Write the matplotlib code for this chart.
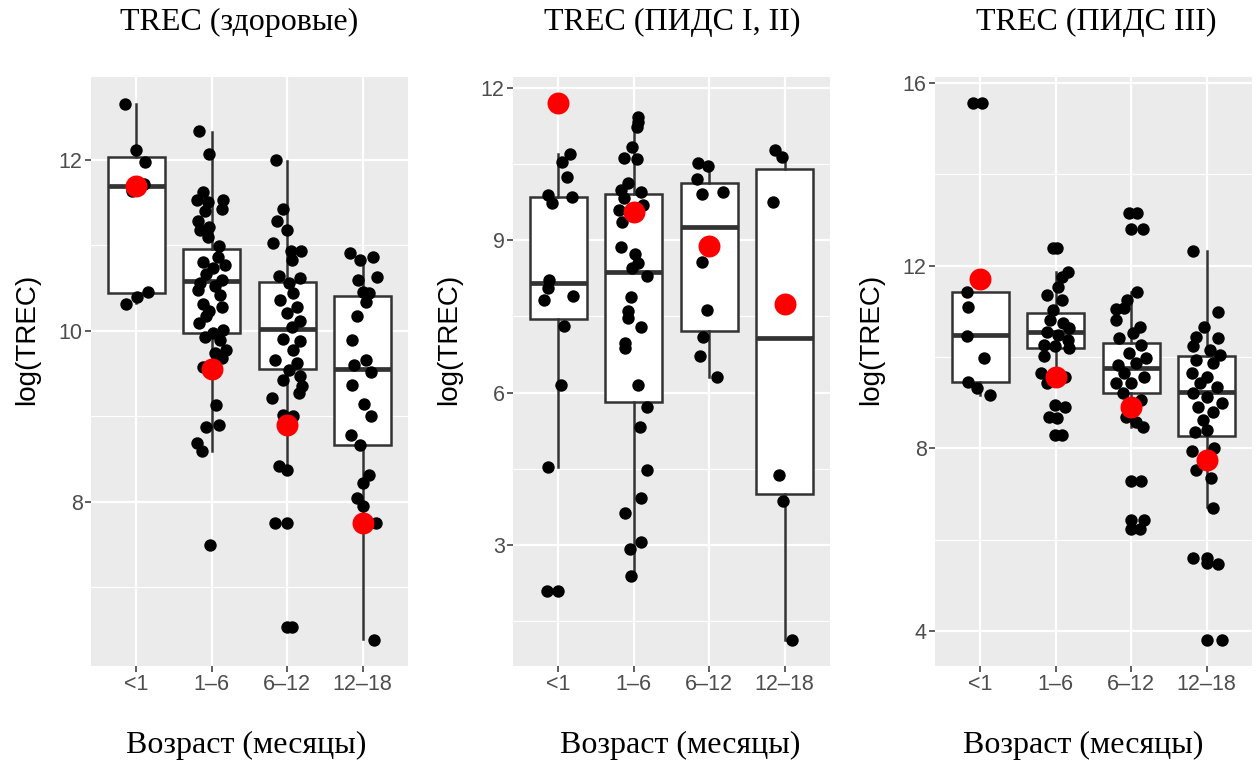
import numpy as np
import matplotlib.pyplot as plt

plt.rcParams['font.family'] = ['Liberation Sans', 'DejaVu Sans']

groups = ['<1', '1–6', '6–12', '12–18']
titles = ['TREC (здоровые)', 'TREC (ПИДС I, II)', 'TREC (ПИДС III)']
xlabel = 'Возраст (месяцы)'
ylabel = 'log(TREC)'

# ---- panel 1: healthy ----
healthy_y = [
    [12.66, 12.12, 11.98, 11.64, 11.72, 10.32, 10.40, 10.45],
    [12.34, 12.07, 11.63, 11.53, 11.51, 11.53, 11.43, 11.40, 11.28, 11.22, 11.18, 11.10,
     10.99, 10.87, 10.81, 10.77, 10.73, 10.67, 10.60, 10.56, 10.52, 10.48, 10.42, 10.32,
     10.28, 10.23, 10.17, 10.09, 10.01, 9.97, 9.93, 9.89, 9.78, 9.74, 9.68, 9.58,
     9.13, 8.88, 8.90, 8.69, 8.59, 7.49],
    [12.00, 11.43, 11.28, 11.18, 11.03, 10.93, 10.93, 10.83, 10.64, 10.62, 10.56, 10.44,
     10.36, 10.28, 10.21, 10.11, 10.05, 9.91, 9.88, 9.78, 9.66, 9.62, 9.54, 9.43,
     9.47, 9.35, 9.27, 9.22, 9.02, 9.01, 8.42, 8.37, 7.75, 7.75, 6.54, 6.54],
    [10.91, 10.83, 10.87, 10.63, 10.60, 10.46, 10.44, 10.34, 10.17, 9.89, 9.66, 9.60,
     9.52, 9.37, 9.15, 9.00, 8.78, 8.67, 8.32, 8.22, 8.04, 7.95, 7.75, 6.38],
]
healthy_dx = [
    [-0.15, 0.00, 0.12, -0.06, 0.10, -0.13, 0.01, 0.15],
    [-0.17, -0.04, -0.12, -0.20, -0.05, 0.15, 0.13, -0.09, -0.18, -0.03, -0.16, -0.05,
     0.10, 0.08, -0.12, 0.17, 0.02, -0.07, 0.13, -0.16, 0.04, -0.18, 0.11, -0.12,
     0.13, -0.03, -0.07, -0.17, 0.15, 0.02, -0.09, 0.11, 0.19, 0.04, 0.13, -0.12,
     0.06, -0.07, 0.10, -0.20, -0.13, -0.02],
    [-0.15, -0.06, -0.13, 0.00, -0.19, 0.05, 0.18, 0.06, -0.11, 0.17, 0.02, 0.08,
     -0.09, 0.13, 0.00, 0.17, 0.06, -0.05, 0.17, 0.08, -0.16, 0.13, 0.02, -0.05,
     0.17, 0.19, 0.15, -0.20, -0.05, 0.08, -0.11, 0.00, -0.16, 0.00, 0.00, 0.06],
    [-0.17, -0.04, 0.14, 0.19, -0.06, 0.00, 0.08, 0.04, -0.07, -0.14, 0.04, -0.12,
     0.11, -0.14, 0.02, 0.11, -0.16, -0.03, 0.08, 0.00, -0.07, 0.00, 0.17, 0.15],
]
healthy_q1 = [10.44, 9.98, 9.55, 8.67]
healthy_med = [11.69, 10.58, 10.02, 9.55]
healthy_q3 = [12.03, 10.96, 10.57, 10.41]
healthy_lo = [10.33, 8.59, 8.37, 6.39]
healthy_hi = [12.65, 12.33, 11.99, 10.87]
healthy_mean = [11.70, 9.55, 8.90, 7.75]

# ---- panel 2: PIDS I, II ----
pids12_y = [
    [10.70, 10.55, 10.25, 9.89, 9.73, 9.85, 8.22, 8.06, 7.83, 7.90, 7.31, 6.15, 4.53, 2.09, 2.09],
    [11.43, 11.34, 11.24, 10.85, 10.62, 10.60, 10.14, 9.99, 9.96, 9.83, 9.60, 9.70,
     9.37, 8.87, 8.74, 8.55, 8.45, 8.30, 7.88, 7.60, 7.46, 7.29, 6.97, 6.87,
     6.15, 5.71, 5.32, 4.48, 3.92, 3.62, 3.05, 2.92, 2.38],
    [10.53, 10.46, 10.20, 9.91, 9.96, 8.58, 7.63, 7.09, 6.72, 6.30],
    [10.79, 10.64, 9.76, 4.37, 3.87, 1.13],
]
pids12_dx = [
    [0.16, 0.05, 0.11, -0.14, -0.08, 0.18, -0.12, -0.13, -0.19, 0.20, 0.07, 0.04, -0.13, -0.15, 0.00],
    [0.05, 0.05, 0.04, -0.02, -0.13, 0.04, -0.08, -0.17, 0.09, -0.13, -0.20, 0.12,
     -0.15, -0.17, 0.01, 0.05, -0.02, 0.18, -0.04, -0.08, -0.08, 0.10, -0.12, -0.11,
     0.05, 0.17, 0.08, 0.18, 0.09, -0.11, 0.10, -0.05, -0.04],
    [-0.15, -0.02, -0.16, -0.10, 0.18, -0.10, -0.03, -0.08, -0.12, 0.10],
    [-0.13, -0.04, -0.16, -0.08, -0.02, 0.09],
]
pids12_q1 = [7.45, 5.82, 7.22, 4.00]
pids12_med = [8.15, 8.38, 9.27, 7.07]
pids12_q3 = [9.86, 9.91, 10.14, 10.40]
pids12_lo = [4.54, 2.38, 6.30, 1.13]
pids12_hi = [10.70, 11.45, 10.48, 10.62]
pids12_mean = [11.70, 9.55, 8.89, 7.74]

# ---- panel 3: PIDS III ----
pids3_y = [
    [15.56, 15.56, 11.43, 11.10, 10.46, 9.97, 9.44, 9.31, 9.17],
    [12.38, 12.38, 11.87, 11.76, 11.54, 11.36, 11.25, 11.03, 10.81, 10.74, 10.63, 10.55,
     10.48, 10.37, 10.26, 10.23, 10.19, 10.01, 9.64, 9.42, 9.57, 8.95, 8.91, 8.69,
     8.66, 8.29, 8.29],
    [13.16, 13.16, 12.80, 12.80, 11.43, 11.25, 11.04, 11.07, 10.81, 10.66, 10.52, 10.41,
     10.26, 10.08, 9.97, 9.83, 9.86, 9.64, 9.57, 9.42, 9.42, 9.21, 9.06, 8.69,
     8.58, 8.47, 7.29, 7.29, 6.43, 6.43, 6.23, 6.23],
    [12.31, 10.99, 10.66, 10.44, 10.41, 10.23, 10.15, 10.04, 9.93, 9.86, 9.64, 9.57,
     9.42, 9.35, 9.21, 9.13, 8.99, 8.91, 8.80, 8.62, 8.36, 8.40, 7.93, 8.00,
     7.53, 7.34, 6.69, 5.59, 5.59, 5.48, 5.47, 3.80, 3.80],
]
pids3_dx = [
    [-0.10, 0.02, -0.18, -0.16, -0.18, 0.05, -0.16, -0.04, 0.13],
    [-0.04, 0.01, 0.16, 0.08, 0.03, -0.12, 0.08, -0.04, -0.08, 0.10, 0.18, -0.12,
     0.03, 0.16, -0.15, -0.01, 0.18, -0.15, -0.19, -0.12, 0.12, -0.01, 0.12, -0.09,
     0.01, -0.01, 0.08],
    [-0.03, 0.08, 0.00, 0.16, 0.08, -0.06, -0.20, -0.09, -0.20, 0.11, 0.02, -0.16,
     0.13, -0.03, 0.19, -0.18, 0.06, -0.09, 0.17, -0.20, 0.00, -0.11, 0.13, -0.07,
     0.06, 0.15, 0.00, 0.13, 0.00, 0.17, 0.00, 0.12],
    [-0.18, 0.15, -0.03, -0.14, 0.15, -0.18, 0.04, 0.17, -0.14, 0.08, -0.20, 0.00,
     -0.09, 0.13, -0.18, 0.00, 0.20, -0.12, 0.08, -0.05, -0.16, 0.00, -0.20, 0.10,
     -0.14, 0.06, 0.08, -0.18, 0.00, 0.00, 0.15, 0.00, 0.20],
]
pids3_q1 = [9.45, 10.19, 9.21, 8.26]
pids3_med = [10.48, 10.55, 9.75, 9.23]
pids3_q3 = [11.42, 10.96, 10.30, 10.01]
pids3_lo = [9.17, 9.42, 8.47, 6.72]
pids3_hi = [11.43, 11.87, 11.43, 12.31]
pids3_mean = [11.70, 9.57, 8.91, 7.75]

panels = [
    (healthy_y, healthy_dx, healthy_q1, healthy_med, healthy_q3, healthy_lo, healthy_hi, healthy_mean),
    (pids12_y, pids12_dx, pids12_q1, pids12_med, pids12_q3, pids12_lo, pids12_hi, pids12_mean),
    (pids3_y, pids3_dx, pids3_q1, pids3_med, pids3_q3, pids3_lo, pids3_hi, pids3_mean),
]
ylims = [(6.08, 12.97), (0.61, 12.22), (3.23, 16.13)]
major_ticks = [[8, 10, 12], [3, 6, 9, 12], [4, 8, 12, 16]]
minor_ticks = [[7, 9, 11], [1.5, 4.5, 7.5, 10.5], [6, 10, 14]]

W, H = 1259, 762
fig = plt.figure(figsize=(W / 100, H / 100), dpi=100)

ax_left = [91, 513, 935]
title_x = [239, 672, 1096]
xlab_x = [246, 680, 1083]
pos = np.arange(1, 5)

for k, (ys, dxs, q1, med, q3, lo, hi, mean) in enumerate(panels):
    ax = fig.add_axes([ax_left[k] / W, 1 - 666 / H, 317 / W, 589 / H])
    ax.set_facecolor('#EBEBEB')
    for s in ax.spines.values():
        s.set_visible(False)

    stats = [dict(med=med[i], q1=q1[i], q3=q3[i], whislo=lo[i], whishi=hi[i], fliers=[])
             for i in range(4)]
    ax.bxp(stats, positions=pos, widths=0.75, patch_artist=True,
           showcaps=False, showfliers=False,
           boxprops=dict(facecolor='white', edgecolor='#333333', linewidth=1.8),
           medianprops=dict(color='#333333', linewidth=3.4),
           whiskerprops=dict(color='#333333', linewidth=1.8))

    for i in range(4):
        ax.scatter(pos[i] + np.array(dxs[i]), ys[i], s=80, color='black',
                   linewidths=0, zorder=3)
    ax.scatter(pos, mean, s=250, color='red', linewidths=0, zorder=4)

    ax.set_xlim(0.4, 4.6)
    ax.set_ylim(*ylims[k])
    ax.set_xticks(pos)
    ax.set_xticklabels(groups)
    ax.set_yticks(major_ticks[k])
    ax.set_yticks(minor_ticks[k], minor=True)
    ax.set_axisbelow(True)
    ax.grid(which='major', color='white', linewidth=1.6)
    ax.grid(which='minor', axis='y', color='white', linewidth=0.8)
    ax.tick_params(which='major', length=4, width=1.1, color='#333333',
                   labelcolor='#4D4D4D', labelsize=15.5, pad=2)
    ax.tick_params(which='minor', length=0)

    ax.text(-0.203, 0.555, ylabel, rotation=90, transform=ax.transAxes,
            ha='center', va='center', fontsize=20)

    fig.text(title_x[k] / W, 1 - 22 / H, titles[k], ha='center', va='center',
             family='Liberation Serif', fontsize=23)
    fig.text(xlab_x[k] / W, 1 - 745 / H, xlabel, ha='center', va='center',
             family='Liberation Serif', fontsize=23)

fig.savefig('out.png', dpi=100)
